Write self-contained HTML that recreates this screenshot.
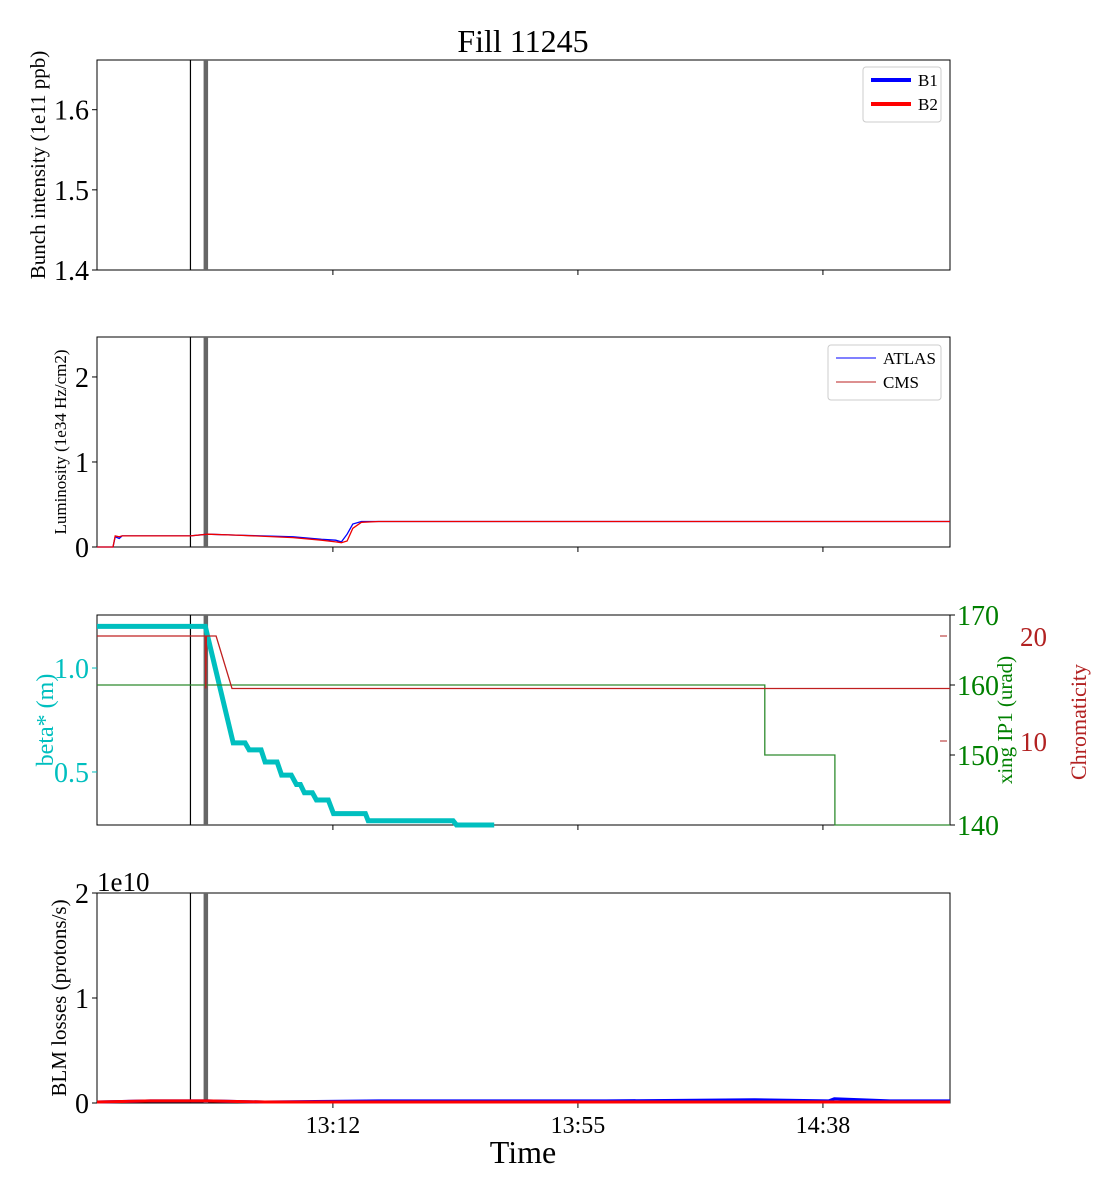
<!DOCTYPE html>
<html><head><meta charset="utf-8"><style>
body{margin:0;background:#fff}
svg{display:block;font-family:"Liberation Serif",serif}
</style></head><body>
<svg id="chart" width="1120" height="1200" viewBox="0 0 1120 1200" xmlns="http://www.w3.org/2000/svg">
<text x="523" y="52" font-size="32" text-anchor="middle">Fill 11245</text>
<g id="g"></g>
</svg>
<script>
// time in minutes of day
const xTickVals=[792,835,878];
const xTickLabels=["13:12","13:55","14:38"];
const markers=[767,769.7];
// luminosity
const lumiT=[750.6,753.4,753.8,754.5,755,767,770,775,785,790,792.5,793.5,794.5,795.5,797,800,830,900.3];
const atlas=[0,0,0.12,0.1,0.13,0.13,0.15,0.14,0.12,0.09,0.08,0.06,0.15,0.27,0.3,0.3,0.3,0.3];
const cms=[0,0,0.13,0.12,0.13,0.13,0.15,0.14,0.11,0.08,0.06,0.05,0.07,0.22,0.29,0.3,0.3,0.3];
// beta*
const betaT=[750.6,769.6,774.5,776.6,777.3,779.4,780.1,782.2,783,784.7,785.6,786.3,787,788.4,789.1,791.2,792.1,797.7,798.2,813.1,813.7,820.3];
const betaV=[1.2,1.2,0.64,0.64,0.606,0.606,0.548,0.548,0.485,0.485,0.44,0.44,0.40,0.40,0.365,0.365,0.30,0.30,0.265,0.265,0.245,0.245];
// crossing angle
const xingT=[750.6,867.8,867.8,880.1,880.1,900.3];
const xingV=[160,160,150,150,140,140];
// chromaticity
const chromaT=[750.6,769.6,769.7,769.8,771.5,774.3,900.3];
const chromaV=[20,20,15,20,20,15,15];
// BLM (1e10)
const blmT=[750.6,760,770,780,800,840,866,879,880,890,900.3];
const blmB1=[0.01,0.02,0.02,0.01,0.02,0.02,0.03,0.02,0.04,0.02,0.02];
const blmB2=[0.01,0.02,0.02,0.01,0.01,0.01,0.01,0.01,0.01,0.01,0.01];

const NS="http://www.w3.org/2000/svg";
const G=document.getElementById('g');
const X0=97,X1=950,T0=750.6,T1=900.3;
const sx=t=>X0+(t-T0)/(T1-T0)*(X1-X0);
function el(tag,a,parent){const e=document.createElementNS(NS,tag);for(const k in a)e.setAttribute(k,a[k]);(parent||G).appendChild(e);return e;}
function txt(x,y,s,size,anchor,fill,rot){const e=el('text',{x:x,y:y,'font-size':size,'text-anchor':anchor||'middle',fill:fill||'#000'});if(rot)e.setAttribute('transform',`rotate(-90 ${x} ${y})`);e.textContent=s;return e;}
function line(ts,vs,sy,color,w,name){
  const pts=ts.map((t,i)=>sx(t).toFixed(1)+','+sy(vs[i]).toFixed(1)).join(' ');
  const p=el('polyline',{points:pts,fill:'none',stroke:color,'stroke-width':w,'stroke-linejoin':'miter'});
  
  
  return p;
}
function panel(top,vmin,vmax,ticks,labels,name,ylabel,ylsize,lblcolor,showX){
  const bot=top+210;
  const sy=v=>bot-(v-vmin)/(vmax-vmin)*210;
  const fr=el('rect',{x:X0,y:top,width:X1-X0,height:210,fill:'none',stroke:'#000','stroke-width':1});
  
  
  ticks.forEach((v,i)=>{const y=sy(v);el('line',{x1:X0-5,x2:X0,y1:y,y2:y,stroke:lblcolor||'#000'});
    const t=txt(X0-8,y+10,labels[i],28,'end',lblcolor||'#000');
    
    });
  const yl=txt(ylabel[1],top+105,ylabel[0],ylsize,'middle',lblcolor||'#000',true);
  
  
  xTickVals.forEach((t,i)=>{el('line',{x1:sx(t),x2:sx(t),y1:bot,y2:bot+5,stroke:'#000'});
    if(showX){const l=txt(sx(t),bot+30,xTickLabels[i],24);
      
      }});
  return sy;
}
function markersDraw(top){
  el('line',{x1:sx(markers[0]),x2:sx(markers[0]),y1:top,y2:top+210,stroke:'#000','stroke-width':1.2});
  el('line',{x1:sx(markers[1]),x2:sx(markers[1]),y1:top,y2:top+210,stroke:'#666','stroke-width':4.5});
}
// Panel 1
panel(60,1.4,1.662,[1.4,1.5,1.6],["1.4","1.5","1.6"],'bunch-intensity',["Bunch intensity (1e11 ppb)",45],21);
markersDraw(60);
function legend(x,y,w,h,items,lw,name){
  const g=el('g',{});
  el('rect',{x:x,y:y,width:w,height:h,rx:3,fill:'#fff',stroke:'#ccc'},g);
  items.forEach((it,i)=>{const yy=y+13+i*24;
    el('line',{x1:x+8,x2:x+48,y1:yy,y2:yy,stroke:it[1],'stroke-width':lw},g);
    const t=txt(x+55,yy+6,it[0],17,'start','#000');g.appendChild(t);});
}
legend(863,67,78,55,[["B1","#00f"],["B2","#f00"]],4,'legend-bunch');
// Panel 2
const sy2=panel(337,0,2.47,[0,1,2],["0","1","2"],'luminosity',["Luminosity (1e34 Hz/cm2)",66],17);
markersDraw(337);
line(lumiT,atlas,sy2,'#00f',1.3,'atlas-line');
line(lumiT,cms,sy2,'#e00',1.3,'cms-line');
legend(828,345,113,55,[["ATLAS","#00f"],["CMS","#b22"]],1,'legend-lumi');
// Panel 3
const sy3=panel(615,0.245,1.255,[0.5,1.0],["0.5","1.0"],'beta',["beta* (m)",53],24,'#00bfbf');
const syX=v=>825-(v-140)/30*210;
const syC=v=>636+(20-v)*10.5;
[140,150,160,170].forEach(v=>{el('line',{x1:X1,x2:X1+5,y1:syX(v),y2:syX(v),stroke:'#000'});
  const t=txt(957,syX(v)+10,String(v),28,'start','#008000');
  
  });
[10,20].forEach(v=>{el('line',{x1:X1-10,x2:X1-3,y1:syC(v),y2:syC(v),stroke:'#b22222'});
  const t=txt(1020,syC(v)+10,String(v),27,'start','#b22222');
  
  });
let t1=txt(1012,720,"xing IP1 (urad)",21,'middle','#008000',true);

let t2=txt(1086,722,"Chromaticity",22,'middle','#b22222',true);

markersDraw(615);
line(betaT,betaV,sy3,'#00bfbf',5,'beta-line');
line(xingT,xingV,syX,'#2e8b2e',1.3,'xing-line');
line(chromaT,chromaV,syC,'#c02020',1.3,'chroma-line');
// Panel 4
const sy4=panel(893,0,2,[0,1,2],["0","1","2"],'blm',["BLM losses (protons/s)",66],21,null,true);
let o=txt(97,891,"1e10",27,'start');
markersDraw(893);
line(blmT,blmB1,sy4,'#00f',3,'blm-b1-line');
line(blmT,blmB2,sy4,'#f00',3,'blm-b2-line');
let xt=txt(523,1163,"Time",32);
</script>
</body></html>
